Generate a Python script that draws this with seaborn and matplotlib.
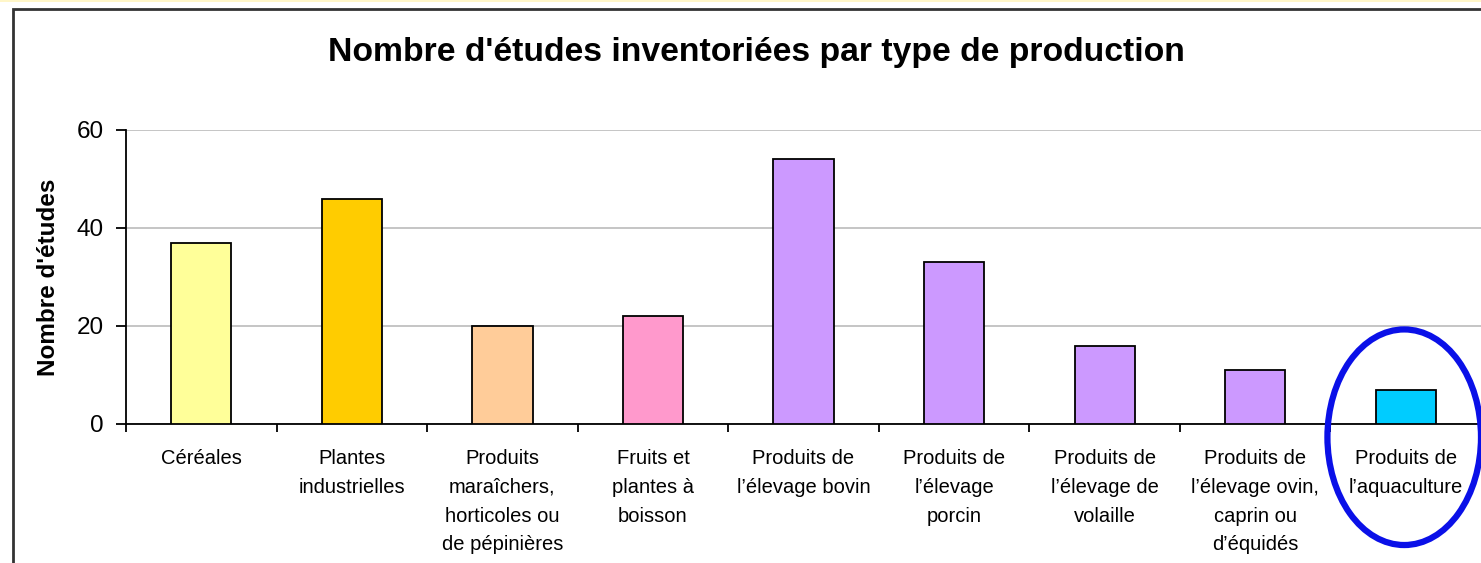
import pandas as pd
import seaborn as sns
import matplotlib.pyplot as plt
from matplotlib.patches import Ellipse, Rectangle

categories = [
    "Céréales",
    "Plantes\nindustrielles",
    "Produits\nmaraîchers,\nhorticoles ou\nde pépinières",
    "Fruits et\nplantes à\nboisson",
    "Produits de\nl’élevage bovin",
    "Produits de\nl’élevage\nporcin",
    "Produits de\nl’élevage de\nvolaille",
    "Produits de\nl’élevage ovin,\ncaprin ou\nd’équidés",
    "Produits de\nl’aquaculture",
]
values = [37, 46, 20, 22, 54, 33, 16, 11, 7]
colors = ["#FFFF99", "#FFCC00", "#FFCC99", "#FF99CC", "#CC99FF",
          "#CC99FF", "#CC99FF", "#CC99FF", "#00CCFF"]
yticks = [0, 20, 40, 60]

df = pd.DataFrame({"type": categories, "n": values})

sns.set_style("white")
plt.rcParams["font.family"] = ["Liberation Sans", "DejaVu Sans"]
plt.rcParams["text.color"] = "black"
plt.rcParams["xtick.color"] = "black"
plt.rcParams["ytick.color"] = "black"
plt.rcParams["axes.labelcolor"] = "black"

W, H = 1481, 563
fig = plt.figure(figsize=(W / 100, H / 100), dpi=100)

# outer chart frame + pale strip on top (cropped screenshot look)
fig.patches.append(Rectangle((0, (H - 2) / H), 1, 2 / H, transform=fig.transFigure,
                             facecolor="#FFF6C8", edgecolor="none"))
fig.patches.append(Rectangle((13 / W, -0.05), 1.1, (H - 9) / H + 0.05,
                             transform=fig.transFigure, facecolor="none",
                             edgecolor="#333333", linewidth=2))

step = 151.5
ax = fig.add_axes([126 / W, (H - 424) / H, (W - 126) / W, 294 / H])
sns.barplot(data=df, x="type", y="n", hue="type", palette=colors, legend=False,
            saturation=1, width=0.4, edgecolor="black", linewidth=1.3, ax=ax,
            zorder=3)

ax.set_xlim(-0.5, -0.5 + (W - 126) / step)
ax.set_ylim(0, 60)
ax.set_yticks(yticks)
ax.set_xticks([i - 0.5 for i in range(len(categories) + 1)], minor=False)
ax.set_xticklabels([])
ax.set_xticks(range(len(categories)), minor=True)
ax.set_xticklabels(categories, minor=True, fontsize=14.5, linespacing=1.65,
                   va="top")
ax.tick_params(axis="x", which="minor", bottom=False, length=0, pad=18)
ax.tick_params(axis="x", which="major", bottom=True, direction="out", length=6,
               width=1.3)
ax.tick_params(axis="y", left=True, direction="out", length=7, width=1.3,
               labelsize=17.5, pad=9)
ax.grid(axis="y", color="#BBBBBB", linewidth=1.2, zorder=0)
ax.set_axisbelow(True)
for s in ["top", "right"]:
    ax.spines[s].set_visible(False)
for s in ["left", "bottom"]:
    ax.spines[s].set_color("black")
    ax.spines[s].set_linewidth(1.3)
ax.set_xlabel("")
ax.set_ylabel("Nombre d'études", fontsize=17.5, fontweight="bold", labelpad=12)

fig.text(756 / W, (H - 52) / H, "Nombre d'études inventoriées par type de production",
         ha="center", va="center", fontsize=24.3, fontweight="bold")

# blue ellipse highlighting aquaculture
ax.add_patch(Ellipse((7.99, -2.7), 1.02, 44, facecolor="none", edgecolor="#0A10E8",
                     linewidth=4.5, clip_on=False, zorder=5))

fig.savefig("out.png", dpi=100)
